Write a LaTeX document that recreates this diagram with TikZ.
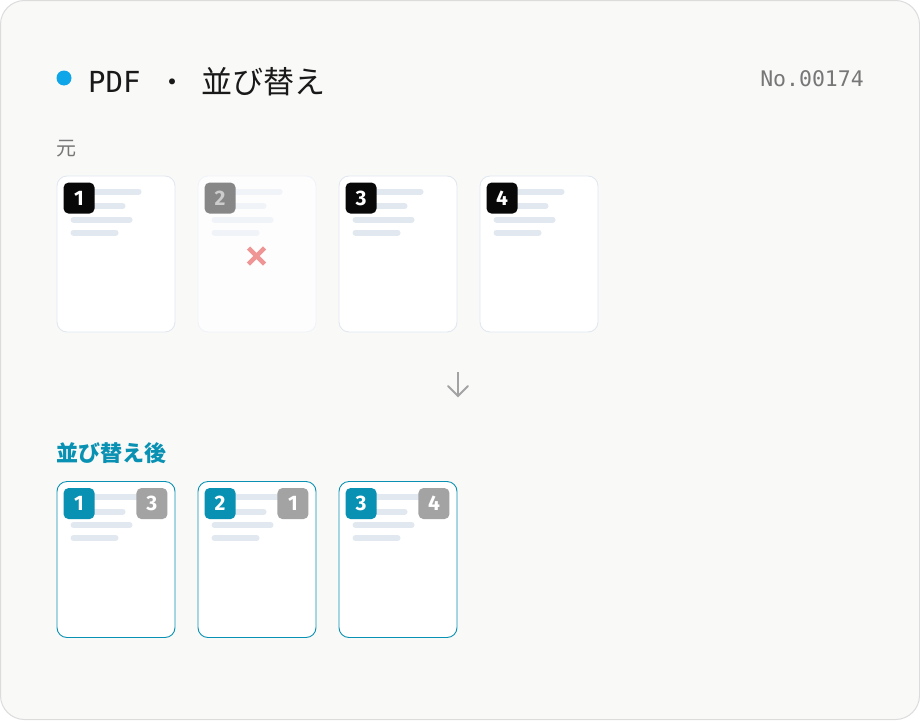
\documentclass[tikz,border=0pt]{standalone}
\usepackage{fontspec}
\setmainfont{Fira Sans}
\newfontfamily\monof{DejaVu Sans Mono}
\newfontfamily\cjk{Noto Sans CJK JP}
\usetikzlibrary{calc}
\definecolor{bgc}{HTML}{F9F9F8}
\definecolor{framec}{HTML}{DCDCDC}
\definecolor{cardline}{HTML}{E2E8F0}
\definecolor{barc}{HTML}{E2E8F0}
\definecolor{teal}{HTML}{0891B2}
\definecolor{dotc}{HTML}{0EA5E9}
\definecolor{graytxt}{HTML}{777777}
\definecolor{graybadge}{HTML}{A3A3A3}
\definecolor{xred}{HTML}{F09595}
\definecolor{arrowc}{HTML}{A3A3A3}
\tikzset{
  card/.style={draw=cardline, fill=white, line width=0.9pt, rounded corners=10pt,
    minimum width=118pt, minimum height=156pt, inner sep=0pt},
  newcard/.style={card, draw=teal},
  badge/.style={rounded corners=5pt, minimum size=31pt, inner sep=0pt,
    text=white, font=\fontsize{21}{21}\selectfont\bfseries},
  txtbar/.style={line width=6pt, line cap=round, draw=barc},
}
\newcommand{\bars}[2]{%
  \draw[txtbar,#2] ($(#1.north west)+(17,16)$) -- ++(65,0);
  \draw[txtbar,#2] ($(#1.north west)+(17,30.5)$) -- ++(49,0);
  \draw[txtbar,#2] ($(#1.north west)+(17,44)$) -- ++(56,0);
  \draw[txtbar,#2] ($(#1.north west)+(17,57)$) -- ++(42,0);
}
\begin{document}
\begin{tikzpicture}[x=1pt,y=-1pt]
\useasboundingbox (0,0) rectangle (920,720);
\draw[fill=bgc, draw=framec, line width=1pt, rounded corners=24pt] (0.5,0.5) rectangle (919.5,719.5);
% title
\fill[dotc] (64,78) circle (7.5);
\node[anchor=base west, inner sep=0pt, text=black!90] (tpdf) at (88,92) {\monof\fontsize{29}{29}\selectfont PDF};
\node[anchor=base, inner sep=0pt, text=black!90] (tdot) at (172,92) {\cjk\fontsize{28}{28}\selectfont ・};
\node[anchor=base west, inner sep=0pt, text=black!90] (tja) at (201,93) {\cjk\fontsize{31}{31}\selectfont 並び替え};
\node[anchor=base east, inner sep=0pt, text=graytxt] (num) at (864,86) {\monof\fontsize{21.5}{21.5}\selectfont No.00174};
% section 1
\node[anchor=base west, inner sep=0pt, text=graytxt] (lab1) at (56,155) {\cjk\fontsize{20}{20}\selectfont 元};
\node[card] (c1) at (116,254) {};
\node[card, draw=cardline!50, fill=white!70!bgc] (c2) at (257,254) {};
\node[card] (c3) at (398,254) {};
\node[card] (c4) at (539,254) {};
\bars{c1}{}
\bars{c2}{draw=barc!50}
\bars{c3}{}
\bars{c4}{}
\node[badge, fill=black!97] (b1) at ($(c1.north west)+(22.5,22.5)$) {1};
\node[badge, fill=black!47, text=black!20] (b2) at ($(c2.north west)+(22.5,22.5)$) {2};
\node[badge, fill=black!97] (b3) at ($(c3.north west)+(22.5,22.5)$) {3};
\node[badge, fill=black!97] (b4) at ($(c4.north west)+(22.5,22.5)$) {4};
\coordinate (xc) at (256.5,256);
\draw[xred, line width=4.5pt] ($(xc)+(-8,-8)$) -- ($(xc)+(8,8)$);
\draw[xred, line width=4.5pt] ($(xc)+(-8,8)$) -- ($(xc)+(8,-8)$);
% arrow
\coordinate (at) at (458,372);
\coordinate (ab) at (458,396);
\draw[arrowc, line width=2pt] (at) -- (ab);
\draw[arrowc, line width=2pt, line cap=round, line join=miter] ($(ab)+(-10,-10)$) -- (ab) -- ($(ab)+(10,-10)$);
% section 2
\node[anchor=base west, inner sep=0pt, text=teal] (lab2) at (56,461) {\cjk\bfseries\fontsize{22}{22}\selectfont 並び替え後};
\node[newcard] (n1) at (116,559.5) {};
\node[newcard] (n2) at (257,559.5) {};
\node[newcard] (n3) at (398,559.5) {};
\bars{n1}{}
\bars{n2}{}
\bars{n3}{}
\node[badge, fill=teal] (nb1) at ($(n1.north west)+(22.5,22.5)$) {1};
\node[badge, fill=teal] (nb2) at ($(n2.north west)+(22.5,22.5)$) {2};
\node[badge, fill=teal] (nb3) at ($(n3.north west)+(22.5,22.5)$) {3};
\node[badge, fill=graybadge] (ob1) at ($(n1.north east)+(-23.5,22.5)$) {3};
\node[badge, fill=graybadge] (ob2) at ($(n2.north east)+(-23.5,22.5)$) {1};
\node[badge, fill=graybadge] (ob3) at ($(n3.north east)+(-23.5,22.5)$) {4};
\end{tikzpicture}
\end{document}
